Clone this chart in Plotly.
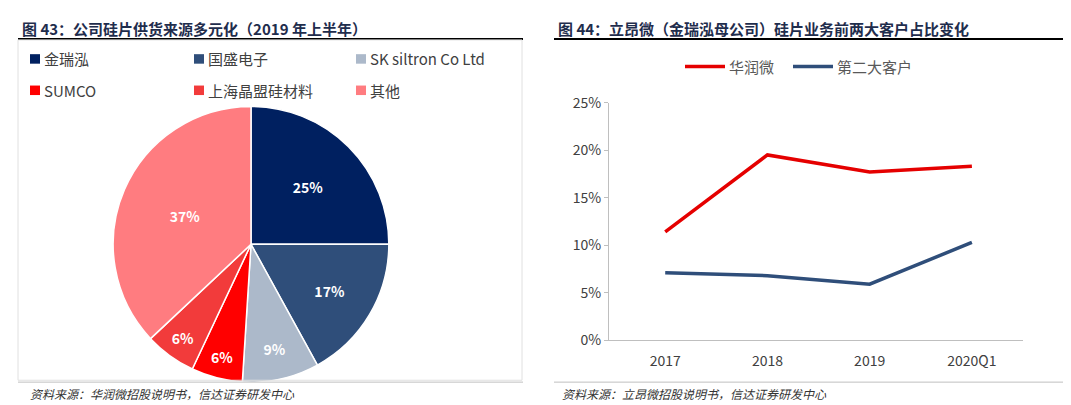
import plotly.graph_objects as go
from plotly.subplots import make_subplots

W, H = 1071, 405

# 饼图数据
suppliers = ["金瑞泓", "国盛电子", "SK siltron Co Ltd", "SUMCO", "上海晶盟硅材料", "其他"]
shares = [25, 17, 9, 6, 6, 37]
pie_colors = ["#002060", "#2F4E7A", "#ACB9CA", "#FF0000", "#F23B3B", "#FF7C80"]

# 折线图数据
years = ["2017", "2018", "2019", "2020Q1"]
huarun = [0.114, 0.195, 0.177, 0.183]
second = [0.071, 0.068, 0.059, 0.103]


def px(x):
    return x / W


def py(y):
    return 1 - y / H


fig = make_subplots(rows=1, cols=2, specs=[[{"type": "domain"}, {"type": "xy"}]])

fig.add_trace(
    go.Pie(
        labels=suppliers,
        values=shares,
        marker=dict(colors=pie_colors, line=dict(color="white", width=1.5)),
        sort=False,
        direction="clockwise",
        rotation=0,
        texttemplate="<b>%{value}%</b>",
        textposition="inside",
        insidetextorientation="horizontal",
        textfont=dict(color="white", size=14),
        showlegend=False,
        domain=dict(x=[px(98), px(388)], y=[py(382), py(92)]),
    )
)

fig.add_trace(
    go.Scatter(x=years, y=huarun, mode="lines", line=dict(color="#E50000", width=3.5), showlegend=False),
    row=1, col=2,
)
fig.add_trace(
    go.Scatter(x=years, y=second, mode="lines", line=dict(color="#2F4E7A", width=3.5), showlegend=False),
    row=1, col=2,
)

fig.update_xaxes(
    domain=[px(601), px(1015)], range=[-0.55, 3.5], showline=True, linecolor="#BFBFBF", linewidth=1,
    showgrid=False, tickfont=dict(size=14, color="#404040"), ticks="outside", ticklen=8,
    tickcolor="white", row=1, col=2,
)
fig.update_yaxes(
    domain=[py(338), py(88)], range=[0, 0.25], dtick=0.05, tickformat=".0%",
    showline=True, linecolor="#BFBFBF", linewidth=1, showgrid=False, zeroline=False,
    ticks="outside", ticklen=4, tickcolor="#BFBFBF",
    tickfont=dict(size=14, color="#404040"), row=1, col=2,
)

shapes = [
    # 标题下划线
    dict(type="line", xref="paper", yref="paper", x0=px(10), x1=px(515), y0=py(21), y1=py(21),
         line=dict(color="black", width=2)),
    dict(type="line", xref="paper", yref="paper", x0=px(546), x1=px(1060), y0=py(21), y1=py(21),
         line=dict(color="black", width=2)),
    # 饼图边框
    dict(type="rect", xref="paper", yref="paper", x0=px(10), x1=px(514), y0=py(380), y1=py(22),
         line=dict(color="#E0E0E0", width=1)),
    # 来源分隔线
    dict(type="line", xref="paper", yref="paper", x0=px(10), x1=px(515), y0=py(382), y1=py(382),
         line=dict(color="#BFBFBF", width=1)),
    dict(type="line", xref="paper", yref="paper", x0=px(546), x1=px(1060), y0=py(382), y1=py(382),
         line=dict(color="#BFBFBF", width=1)),
]

annotations = [
    dict(x=px(12), y=py(10), text="<b>图 43：公司硅片供货来源多元化（2019 年上半年）</b>",
         font=dict(size=15, color="#1F2D4D")),
    dict(x=px(548), y=py(10), text="<b>图 44：立昂微（金瑞泓母公司）硅片业务前两大客户占比变化</b>",
         font=dict(size=15, color="#1F2D4D")),
    dict(x=px(20), y=py(394), text="<i>资料来源：华润微招股说明书，信达证券研发中心</i>",
         font=dict(size=12, color="#333333")),
    dict(x=px(552), y=py(394), text="<i>资料来源：立昂微招股说明书，信达证券研发中心</i>",
         font=dict(size=12, color="#333333")),
]

# 饼图图例
cols_x = [22, 186, 348]
rows_y = [42, 75]
for i, (name, c) in enumerate(zip(suppliers, pie_colors)):
    x0 = cols_x[i % 3]
    y0 = rows_y[i // 3]
    shapes.append(dict(type="rect", xref="paper", yref="paper", x0=px(x0), x1=px(x0 + 10),
                       y0=py(y0 + 5), y1=py(y0 - 5), fillcolor=c, line=dict(width=0)))
    annotations.append(dict(x=px(x0 + 12), y=py(y0), text=name, yanchor="middle",
                            font=dict(size=15, color="#404040")))

# 折线图图例
line_names = ["华润微", "第二大客户"]
line_colors = ["#E50000", "#2F4E7A"]
for x0, name, c in zip([677, 785], line_names, line_colors):
    shapes.append(dict(type="line", xref="paper", yref="paper", x0=px(x0), x1=px(x0 + 40),
                       y0=py(50), y1=py(50), line=dict(color=c, width=3.5)))
    annotations.append(dict(x=px(x0 + 42), y=py(50), text=name, yanchor="middle",
                            font=dict(size=15, color="#595959")))

for a in annotations:
    a.update(xref="paper", yref="paper", showarrow=False, xanchor="left")
    a.setdefault("yanchor", "middle")

fig.update_layout(
    width=W, height=H, margin=dict(l=0, r=0, t=0, b=0),
    paper_bgcolor="white", plot_bgcolor="white",
    font=dict(family="Noto Sans CJK SC, Arial"),
    shapes=shapes, annotations=annotations,
)

fig.write_html("out.html")
